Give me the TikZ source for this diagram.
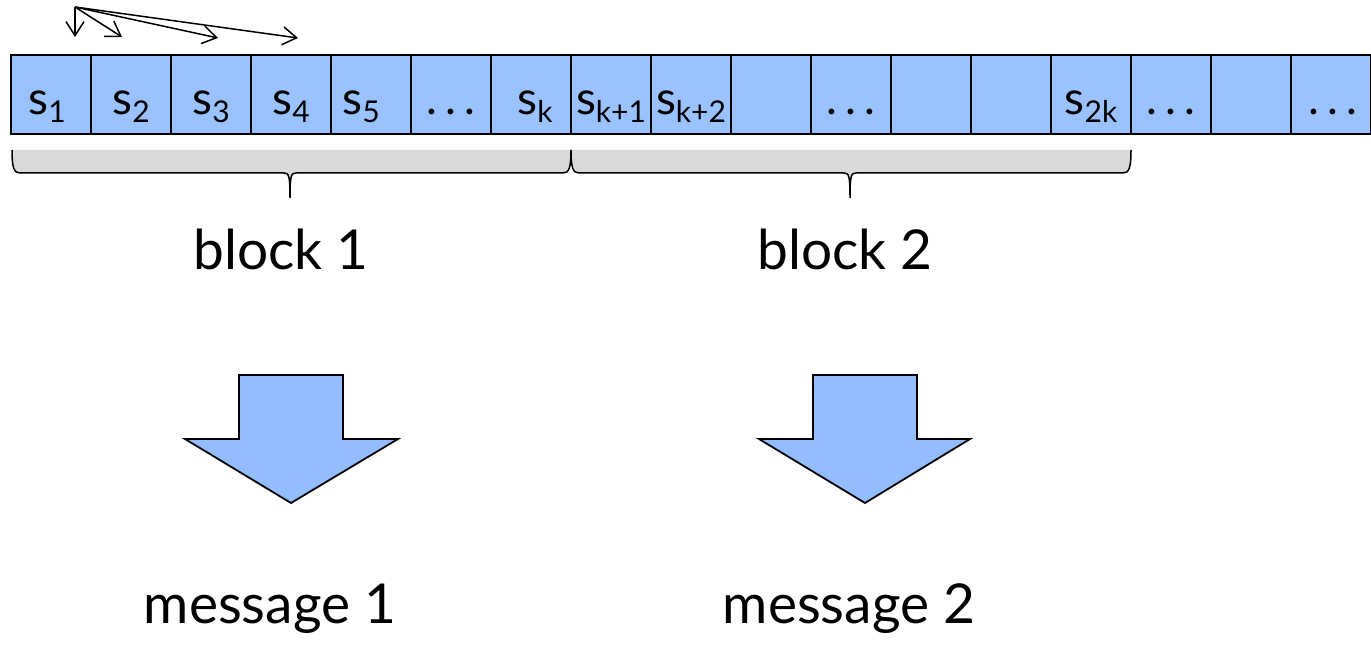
\documentclass[tikz,border=0pt]{standalone}
\usepackage{fontspec}
\setmainfont{Lato}
\usetikzlibrary{arrows.meta}
\definecolor{cellblue}{RGB}{153,194,255}
\definecolor{arrowblue}{RGB}{148,189,255}
\definecolor{braceband}{RGB}{217,217,217}
\newcommand{\ssub}[1]{s\raisebox{-8pt}{\fontsize{30}{30}\selectfont #1}}
\newcommand{\sdots}{.\hspace{8pt}.\hspace{8pt}.}
\tikzset{
  cell/.style={draw=black, line width=1.5pt, fill=cellblue, minimum width=80pt, minimum height=79pt, inner sep=0pt, outer sep=0pt},
  celltxt/.style={anchor=base, inner sep=0pt, font=\fontsize{46}{46}\selectfont},
  bigtxt/.style={anchor=base, inner sep=0pt, font=\fontsize{55}{55}\selectfont},
  jump/.style={-{Straight Barb[length=14pt,width=18pt,line width=1.5pt]}, line width=1.5pt, shorten >=0pt},
  bracefill/.style={fill=braceband, draw=none},
  braceline/.style={draw=black, line width=1.5pt},
  blockarrow/.style={fill=arrowblue, draw=black, line width=1.8pt, line join=miter}
}
\begin{document}
\begin{tikzpicture}[x=1pt,y=-1pt]
\useasboundingbox (0,0) rectangle (1371,652);
% cells
\foreach \i in {1,...,17}{
  \node[cell] (c\i) at ({11+80*(\i-1)+40},94.5) {};
}
% cell labels
\node[celltxt] (t1) at ([yshift=-20.5pt,xshift=-4pt]c1.center) {\ssub{1}};
\node[celltxt] (t2) at ([yshift=-20.5pt]c2.center) {\ssub{2}};
\node[celltxt] (t3) at ([yshift=-20.5pt]c3.center) {\ssub{3}};
\node[celltxt] (t4) at ([yshift=-20.5pt]c4.center) {\ssub{4}};
\node[celltxt] (t5) at ([yshift=-20.5pt,xshift=-10pt]c5.center) {\ssub{5}};
\node[celltxt] (t6) at ([yshift=-20.5pt]c6.center) {\sdots};
\node[celltxt] (t7) at ([yshift=-20.5pt,xshift=4pt]c7.center) {\ssub{k}};
\node[celltxt] (t8) at ([yshift=-20.5pt]c8.center) {\ssub{k+1}};
\node[celltxt] (t9) at ([yshift=-20.5pt]c9.center) {\ssub{k+2}};
\node[celltxt] (t11) at ([yshift=-20.5pt]c11.center) {\sdots};
\node[celltxt] (t14) at ([yshift=-20.5pt]c14.center) {\ssub{2k}};
\node[celltxt] (t15) at ([yshift=-20.5pt]c15.center) {\sdots};
\node[celltxt] (t17) at ([yshift=-20.5pt,xshift=2pt]c17.center) {\sdots};
% small jump arrows
\coordinate (o) at (75,7);
\coordinate (a1) at (75,37);
\coordinate (a2) at (122,37);
\coordinate (a3) at (218,38);
\coordinate (a4) at (298,38);
\draw[jump] (o) -- (a1);
\draw[jump] (o) -- (a2);
\draw[jump] (o) -- (a3);
\draw[jump] (o) -- (a4);
% braces
\foreach \l/\m/\r in {12/290/571, 571/850/1131}{
  \fill[braceband] (\l,150) .. controls (\l,168) and (\l+2,173) .. (\l+8,173) -- (\m-6,173)
     .. controls (\m-1,173) and (\m,176) .. (\m,198) .. controls (\m,176) and (\m+1,173) .. (\m+6,173)
     -- (\r-8,173) .. controls (\r-2,173) and (\r,168) .. (\r,150) -- cycle;
  \draw[braceline] (\l,150) .. controls (\l,168) and (\l+2,173) .. (\l+8,173) -- (\m-6,173)
     .. controls (\m-1,173) and (\m,176) .. (\m,198) .. controls (\m,176) and (\m+1,173) .. (\m+6,173)
     -- (\r-8,173) .. controls (\r-2,173) and (\r,168) .. (\r,150);
}
% labels
\node[bigtxt] (b1) at (281,270) {block 1};
\node[bigtxt] (b2) at (845,270) {block 2};
\node[bigtxt] (m1) at (270,623) {message 1};
\node[bigtxt] (m2) at (849,623) {message 2};
% block arrows
\draw[blockarrow] (239,375) -- (343,375) -- (343,439) -- (398,439) -- (291,503) -- (185,439) -- (239,439) -- cycle;
\draw[blockarrow] (813,375) -- (917,375) -- (917,439) -- (970,439) -- (865,503) -- (759,439) -- (813,439) -- cycle;
\end{tikzpicture}
\end{document}
